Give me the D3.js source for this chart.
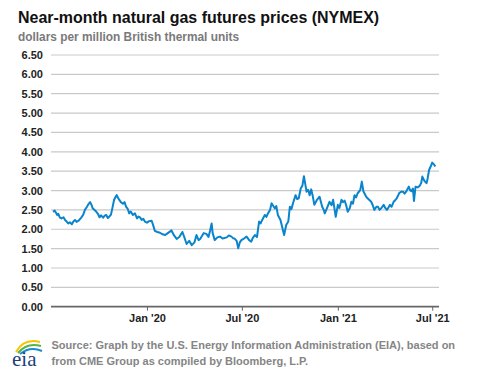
<!DOCTYPE html>
<html><head><meta charset="utf-8">
<script src="https://cdn.jsdelivr.net/npm/d3@7/dist/d3.min.js"></script>
<style>
html,body{margin:0;padding:0;background:#fff;}
svg{display:block;}
</style></head>
<body>
<svg id="chart" width="477" height="379"></svg>
<script>
const title = "Near-month natural gas futures prices (NYMEX)";
const subtitle = "dollars per million British thermal units";
const sourceLines = ["Source: Graph by the U.S. Energy Information Administration (EIA), based on",
                     "from CME Group as compiled by Bloomberg, L.P."];
const yTicks = [0,0.5,1,1.5,2,2.5,3,3.5,4,4.5,5,5.5,6,6.5];
const xTickDates = ["2020-01-01","2020-07-01","2021-01-01","2021-07-01"];
const dates = [
"2019-07-05","2019-07-08","2019-07-10","2019-07-13","2019-07-15","2019-07-18","2019-07-21","2019-07-25","2019-07-28","2019-07-31","2019-08-03","2019-08-06","2019-08-10","2019-08-13","2019-08-16","2019-08-19","2019-08-23","2019-08-26","2019-08-29",
"2019-09-01","2019-09-04","2019-09-08","2019-09-11","2019-09-14","2019-09-17","2019-09-19","2019-09-23","2019-09-26","2019-09-29","2019-10-02","2019-10-05","2019-10-09","2019-10-12","2019-10-15","2019-10-18","2019-10-21","2019-10-24","2019-10-26",
"2019-10-30","2019-11-02","2019-11-04","2019-11-07","2019-11-09","2019-11-12","2019-11-16","2019-11-19","2019-11-22","2019-11-25","2019-11-28","2019-12-01","2019-12-05","2019-12-09","2019-12-13","2019-12-16","2019-12-19","2019-12-22","2019-12-25","2019-12-28",
"2020-01-01","2020-01-05","2020-01-10","2020-01-13","2020-01-16","2020-01-21","2020-01-26","2020-01-31","2020-02-05","2020-02-10","2020-02-14","2020-02-17","2020-02-22","2020-02-27","2020-03-03","2020-03-09","2020-03-13","2020-03-17","2020-03-22","2020-03-27",
"2020-04-01","2020-04-05","2020-04-09","2020-04-12","2020-04-16","2020-04-19","2020-04-24","2020-04-28","2020-05-01","2020-05-04","2020-05-06","2020-05-10","2020-05-15","2020-05-20","2020-05-25","2020-06-02","2020-06-06","2020-06-11",
"2020-06-14","2020-06-17","2020-06-21","2020-06-24","2020-06-27","2020-06-30","2020-07-05","2020-07-10","2020-07-15","2020-07-19","2020-07-22","2020-07-26","2020-07-30","2020-08-03","2020-08-06","2020-08-09","2020-08-14","2020-08-17","2020-08-20",
"2020-08-24","2020-08-27","2020-09-02","2020-09-05","2020-09-08","2020-09-13","2020-09-17","2020-09-20","2020-09-24","2020-09-28","2020-10-01","2020-10-04","2020-10-07","2020-10-12","2020-10-15","2020-10-18","2020-10-22","2020-10-25",
"2020-10-28","2020-11-02","2020-11-05","2020-11-08","2020-11-11","2020-11-14","2020-11-17","2020-11-22","2020-11-27","2020-12-02","2020-12-05","2020-12-07","2020-12-11","2020-12-16","2020-12-20","2020-12-23","2020-12-28","2021-01-01","2021-01-04","2021-01-08","2021-01-11",
"2021-01-14","2021-01-17","2021-01-20","2021-01-24","2021-01-27","2021-01-30","2021-02-02","2021-02-05","2021-02-08","2021-02-13","2021-02-16","2021-02-19","2021-02-21","2021-02-24","2021-02-27","2021-03-03","2021-03-06","2021-03-09","2021-03-12","2021-03-16","2021-03-19","2021-03-22","2021-03-25",
"2021-03-30","2021-04-02","2021-04-05","2021-04-08","2021-04-11","2021-04-14","2021-04-18","2021-04-21","2021-04-24","2021-04-29","2021-05-03","2021-05-06","2021-05-09","2021-05-12","2021-05-17","2021-05-20","2021-05-22","2021-05-25",
"2021-05-27","2021-05-30","2021-06-03","2021-06-07","2021-06-10","2021-06-12","2021-06-16","2021-06-20","2021-06-22","2021-06-25","2021-06-28","2021-07-01","2021-07-04","2021-07-07"];
const prices = [
2.45,2.48,2.44,2.37,2.40,2.30,2.28,2.31,2.24,2.20,2.15,2.18,2.13,2.20,2.24,2.19,2.22,2.27,2.32,
2.38,2.50,2.58,2.65,2.70,2.62,2.54,2.49,2.45,2.40,2.31,2.36,2.30,2.35,2.37,2.29,2.33,2.38,2.50,
2.76,2.84,2.88,2.80,2.76,2.70,2.66,2.70,2.58,2.53,2.41,2.46,2.37,2.41,2.28,2.33,2.30,2.24,2.27,2.20,
2.17,2.21,2.22,2.10,1.96,1.93,1.91,1.87,1.85,1.90,1.94,1.97,1.84,1.75,1.80,1.93,1.78,1.62,1.70,1.59,
1.66,1.85,1.72,1.75,1.84,1.90,1.88,1.80,1.96,2.15,1.90,1.72,1.79,1.81,1.76,1.79,1.84,1.81,
1.77,1.76,1.70,1.51,1.66,1.72,1.76,1.81,1.72,1.68,1.78,1.85,1.80,2.20,2.15,2.24,2.37,2.32,2.41,
2.50,2.67,2.54,2.60,2.37,2.24,2.02,1.85,2.11,2.20,2.58,2.52,2.67,2.88,2.78,2.80,3.06,3.12,
3.37,2.97,3.02,2.88,3.03,2.85,2.63,2.76,2.84,2.58,2.50,2.41,2.54,2.71,2.62,2.76,2.32,2.63,2.55,2.76,2.70,
2.74,2.62,2.45,2.55,2.71,2.66,2.88,2.82,2.93,3.01,3.23,2.98,2.93,2.85,2.80,2.75,2.71,2.62,2.50,2.58,2.58,2.50,2.54,
2.63,2.55,2.50,2.56,2.63,2.58,2.71,2.75,2.80,2.94,2.97,2.97,2.92,2.97,3.10,3.00,2.98,3.05,
2.73,3.10,3.08,3.12,3.20,3.36,3.25,3.19,3.30,3.53,3.62,3.72,3.68,3.62];

const parse = d3.timeParse("%Y-%m-%d");
const data = dates.map((d,i)=>({date:parse(d), value:prices[i]}));

const svg = d3.select("#chart");
const font = "'Liberation Sans', Arial, sans-serif";

function fit(sel, target){
  const w = sel.node().getComputedTextLength();
  const fs = +sel.attr("font-size");
  sel.attr("font-size", fs*target/w);
}

const t = svg.append("text").attr("x",18).attr("y",22.5)
  .attr("font-family",font).attr("font-weight","bold").attr("font-size",16.8)
  .attr("fill","#111").text(title);
fit(t, 361);
const st = svg.append("text").attr("x",18).attr("y",41)
  .attr("font-family",font).attr("font-weight","bold").attr("font-size",12.2)
  .attr("fill","#7a7a7a").text(subtitle);
fit(st, 221);

const x = d3.scaleTime().domain([parse("2019-07-01"), parse("2021-07-14")]).range([51,439]);
const y = d3.scaleLinear().domain([0,6.5]).range([306.7,55]);

// gridlines
svg.append("g").selectAll("line").data(yTicks.filter(v=>v>0)).join("line")
  .attr("x1",51).attr("x2",439).attr("y1",d=>y(d)).attr("y2",d=>y(d))
  .attr("stroke","#c9c9c9").attr("stroke-width",1.2);

// y labels
svg.append("g").selectAll("text").data(yTicks).join("text")
  .attr("x",43).attr("y",d=>y(d)+4)
  .attr("text-anchor","end").attr("font-family",font).attr("font-weight","bold")
  .attr("font-size",11).attr("fill","#222").text(d=>d3.format(".2f")(d));

// x axis
const xAxis = d3.axisBottom(x).tickValues(xTickDates.map(parse))
  .tickFormat(d3.timeFormat("%b '%y")).tickSize(4).tickPadding(4);
const gx = svg.append("g").attr("transform","translate(0,306.7)").call(xAxis);
gx.select(".domain").remove();
gx.selectAll(".tick line").attr("stroke","#666");
gx.selectAll(".tick text").attr("font-family",font).attr("font-weight","bold")
  .attr("font-size",11).attr("fill","#222");
svg.append("line").attr("x1",51).attr("x2",439).attr("y1",306.7).attr("y2",306.7)
  .attr("stroke","#666").attr("stroke-width",1.8);

// line
const line = d3.line().x(d=>x(d.date)).y(d=>y(d.value));
svg.append("path").datum(data).attr("d",line)
  .attr("fill","none").attr("stroke","#0a84cc").attr("stroke-width",2)
  .attr("stroke-linejoin","round");

// source
const src = svg.append("g");
const s1 = src.append("text").attr("x",51.5).attr("y",348.5)
  .attr("font-family",font).attr("font-weight","bold").attr("font-size",11).attr("fill","#858585")
  .text(sourceLines[0]);
fit(s1, 404);
src.append("text").attr("x",51.5).attr("y",365)
  .attr("font-family",font).attr("font-weight","bold").attr("font-size",s1.attr("font-size")).attr("fill","#858585")
  .text(sourceLines[1]);

// eia logo
const logo = svg.append("g");
logo.append("path").attr("d","M16,352 Q24,338 40,342").attr("fill","none").attr("stroke","#f2c500").attr("stroke-width",2);
logo.append("path").attr("d","M18,353 Q27,342 41,346").attr("fill","none").attr("stroke","#5cb146").attr("stroke-width",2);
logo.append("path").attr("d","M20,354 Q30,346 42,351").attr("fill","none").attr("stroke","#1b8bd0").attr("stroke-width",2);
logo.append("text").attr("x",12).attr("y",366).attr("font-family","'Liberation Serif','DejaVu Serif',serif")
  .attr("font-size",21).attr("fill","#1c3f7a").text("eia");
</script>
</body></html>
